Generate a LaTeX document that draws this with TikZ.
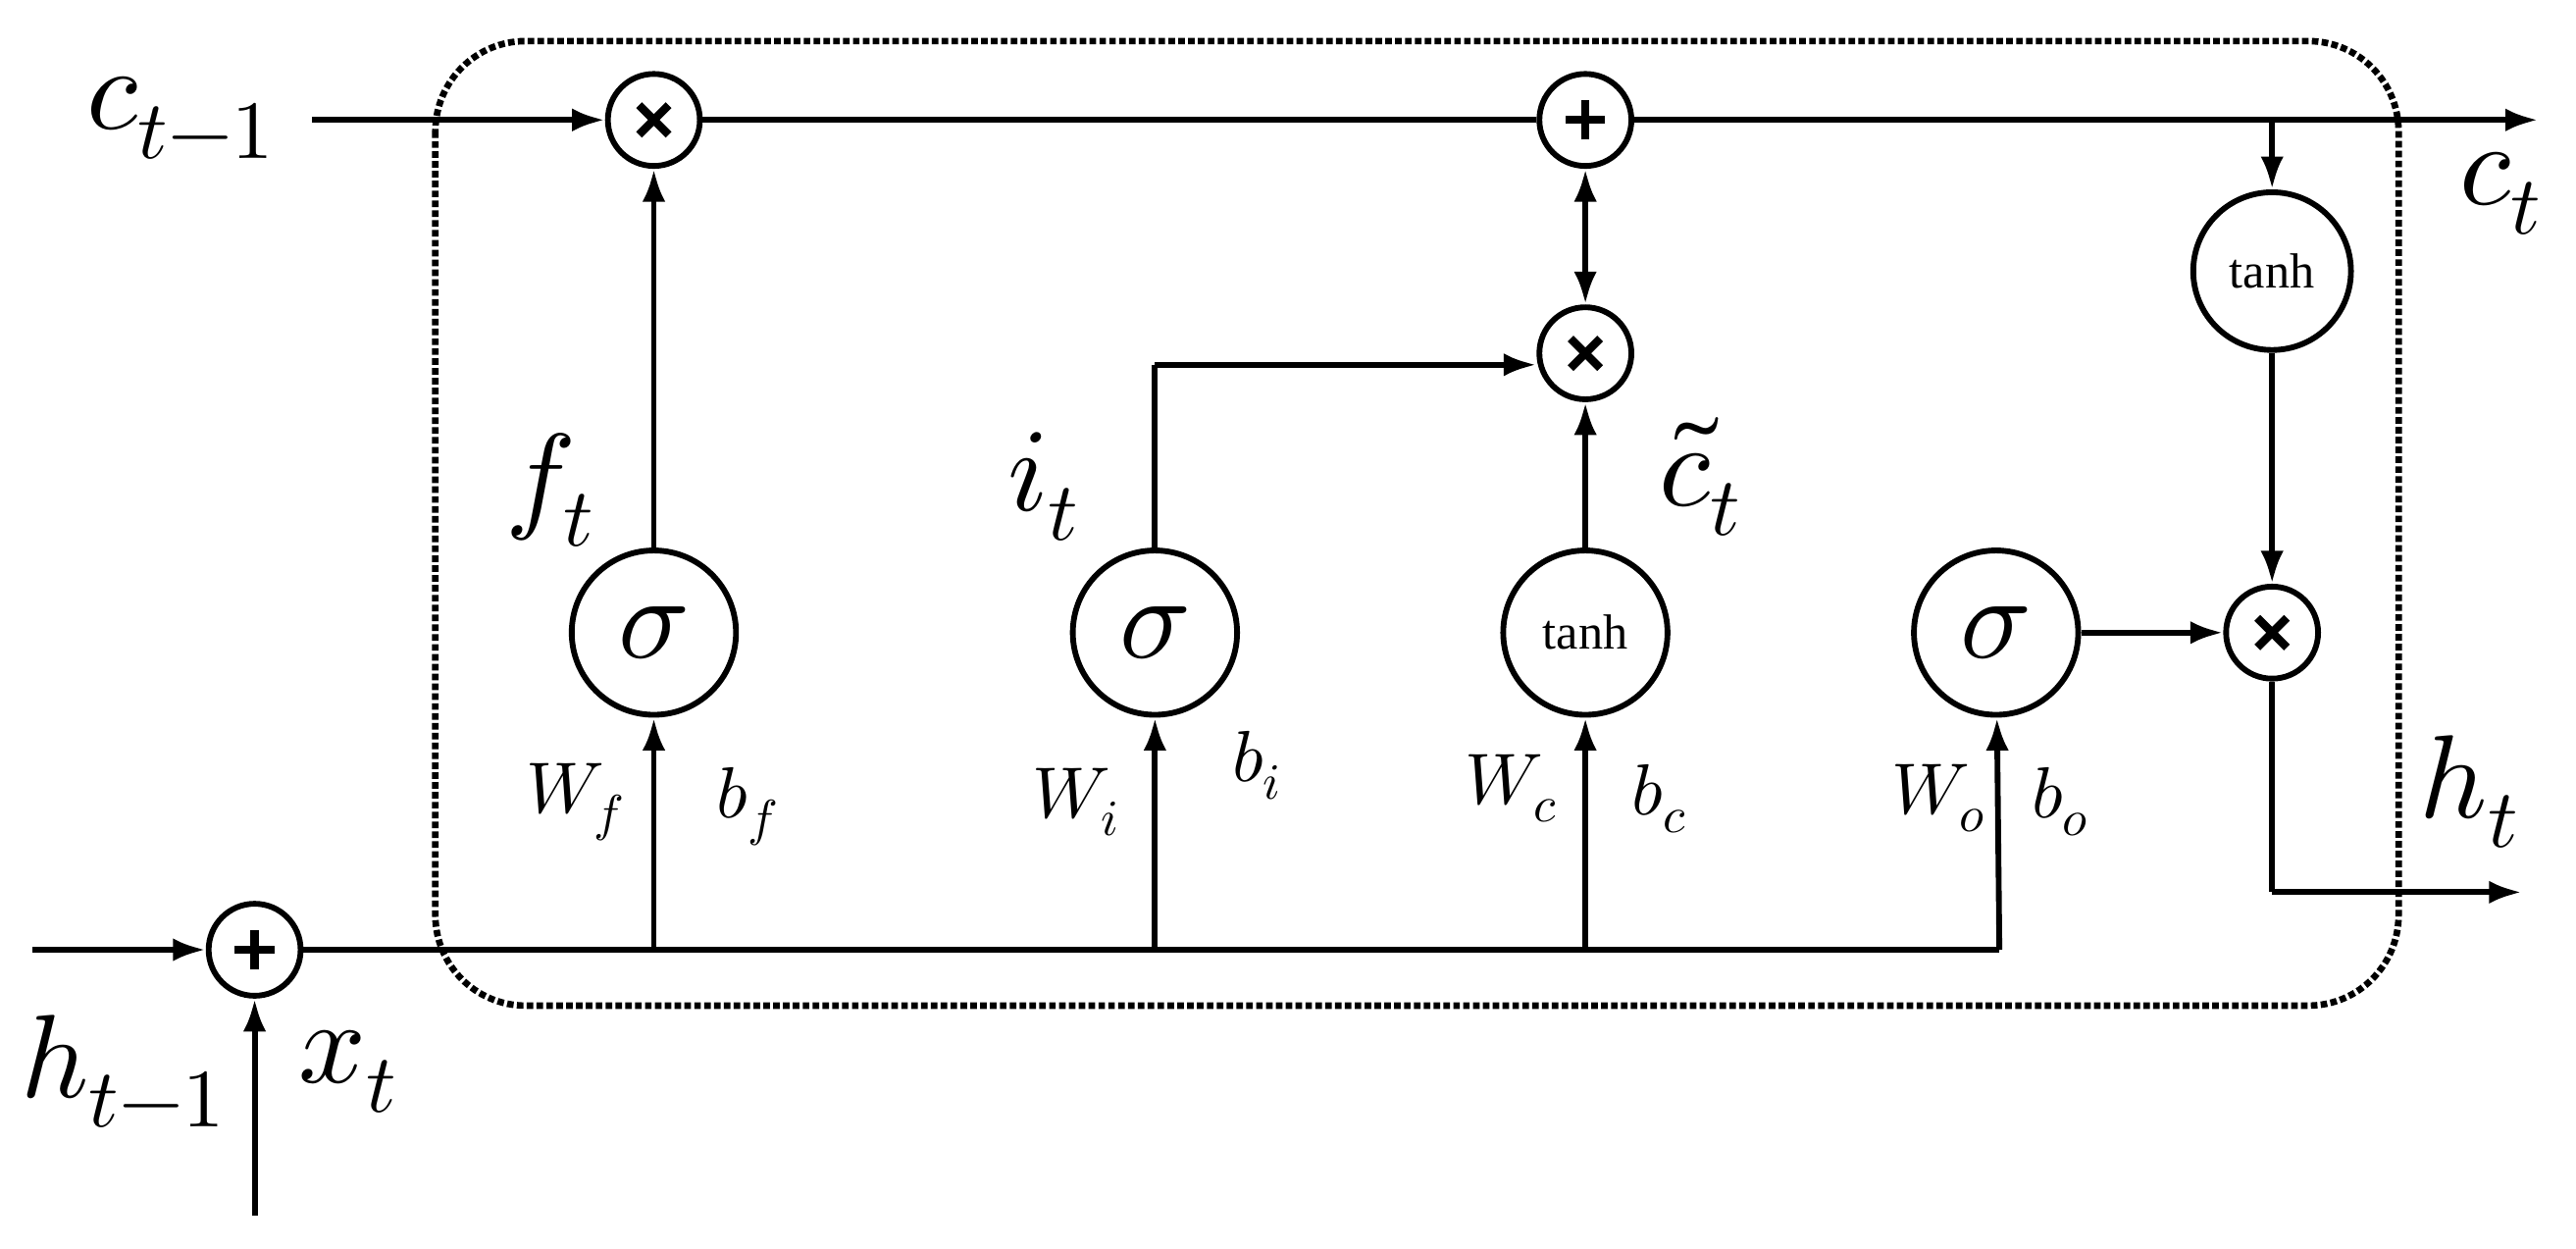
\documentclass[tikz,border=0pt]{standalone}
\usepackage{fontspec}
\setmainfont{Liberation Serif}
\usepackage{unicode-math}
\setmathfont{Latin Modern Math}
\usetikzlibrary{arrows.meta}
\begin{document}
\begin{tikzpicture}[x=1pt,y=-1pt,
  ln/.style={line width=3.5pt},
  ar/.style={ln,-{Latex[length=20pt,width=14pt]}},
  op/.style={circle,draw,line width=3.5pt,minimum size=56pt,inner sep=0pt},
  mul/.style={op,path picture={\draw[line width=5pt] ([shift={(-9pt,-9pt)}]path picture bounding box.center) -- ++(18pt,18pt) ([shift={(-9pt,9pt)}]path picture bounding box.center) -- ++(18pt,-18pt);}},
  add/.style={op,path picture={\draw[line width=5pt] ([shift={(-12pt,0)}]path picture bounding box.center) -- ++(24pt,0) ([shift={(0,-12pt)}]path picture bounding box.center) -- ++(0,24pt);}},
  act/.style={circle,draw,line width=3.5pt,minimum size=100pt,inner sep=0pt},
  big/.style={font=\fontsize{72}{72}\selectfont},
  sm/.style={font=\fontsize{44}{44}\selectfont},
  th/.style={font=\fontsize{30}{30}\selectfont}]
\useasboundingbox (0,0) rectangle (1568,760);
\draw[line width=4pt,dotted,rounded corners=55pt] (265,25) rectangle (1460,612);
\node[mul] (m1) at (398,73) {};
\node[add] (a1) at (965,73) {};
\node[mul] (m2) at (965,215) {};
\node[mul] (m3) at (1383,385) {};
\node[add] (a0) at (155,578) {};
\node[act] (s1) at (398,385) {\fontsize{72}{72}\selectfont$\sigma$};
\node[act] (s2) at (703,385) {\fontsize{72}{72}\selectfont$\sigma$};
\node[act,th] (t1) at (965,385) {tanh};
\node[act] (s4) at (1215,385) {\fontsize{72}{72}\selectfont$\sigma$};
\node[act,th,minimum size=96pt] (t2) at (1383,165) {tanh};
\coordinate (cin) at (190,73);
\coordinate (cout) at (1545,73);
\coordinate (br) at (1383,73);
\coordinate (hin) at (20,578);
\coordinate (xin) at (155,740);
\coordinate (hc) at (1383,543);
\coordinate (hout) at (1535,543);
\coordinate (ic) at (703,222);
\coordinate (bend) at (1217,578);
\coordinate (j1) at (398,578);
\coordinate (j2) at (703,578);
\coordinate (j3) at (965,578);
\draw[ar] (cin) -- (m1);
\draw[ln] (m1) -- (a1);
\draw[ar] (a1) -- (cout);
\draw[ar] (br) -- (t2);
\draw[ar] (t2) -- (m3);
\draw[ln,{Latex[length=20pt,width=14pt]}-{Latex[length=20pt,width=14pt]}] (a1) -- (m2);
\draw[ar] (s1) -- (m1);
\draw[ln] (s2) -- (ic);
\draw[ar] (ic) -- (m2.west |- ic);
\draw[ar] (t1) -- (m2);
\draw[ar] (s4) -- (m3);
\draw[ln] (m3) -- (hc);
\draw[ar] (hc) -- (hout);
\draw[ar] (hin) -- (a0);
\draw[ar] (xin) -- (a0);
\draw[ln] (a0) -- (bend);
\draw[ar] (bend) -- (s4);
\draw[ar] (j1) -- (s1);
\draw[ar] (j2) -- (s2);
\draw[ar] (j3) -- (t1);
\node[big] (lc) at (110,72) {$c_{t-1}$};
\node[big] (lct) at (1522,118) {$c_t$};
\node[big] (lf) at (335,298) {$f_t$};
\node[big] (li) at (635,296) {$i_t$};
\node[big] (lctl) at (1035,290) {$\tilde{c}_t$};
\node[big] (lh) at (1503,482) {$h_t$};
\node[big] (lh1) at (75,652) {$h_{t-1}$};
\node[big] (lx) at (212,652) {$x_t$};
\node[sm] (wf) at (350,488) {$W_f$};
\node[sm] (bf) at (455,491) {$b_f$};
\node[sm] (wi) at (655,488) {$W_i$};
\node[sm] (bi) at (765,466) {$b_i$};
\node[sm] (wc) at (920,480) {$W_c$};
\node[sm] (bc) at (1010,486) {$b_c$};
\node[sm] (wo) at (1180,486) {$W_o$};
\node[sm] (bo) at (1254,488) {$b_o$};
\end{tikzpicture}
\end{document}
